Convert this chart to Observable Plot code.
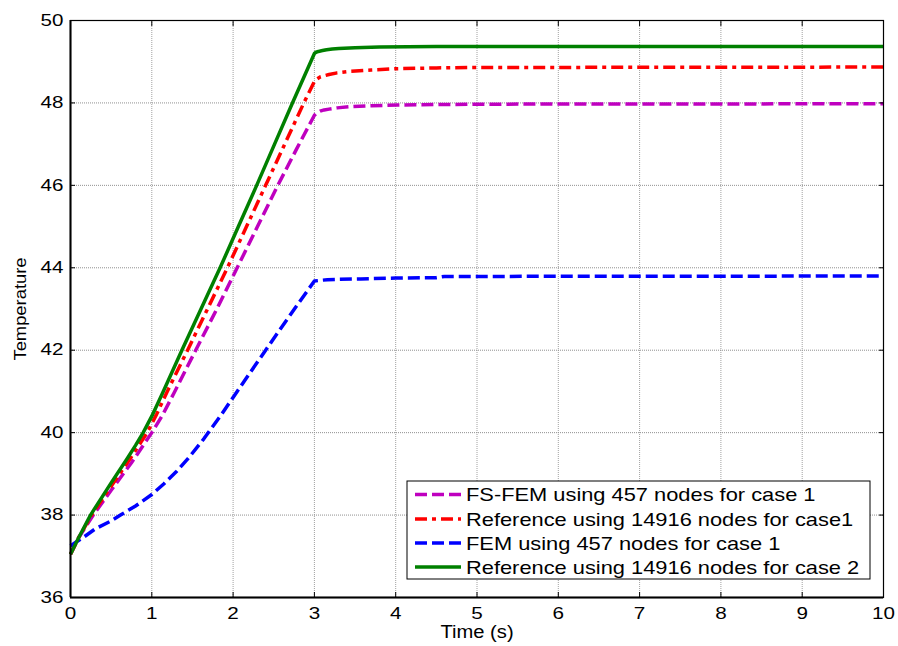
<!DOCTYPE html>
<html><head><meta charset="utf-8">
<script src="https://cdn.jsdelivr.net/npm/d3@7"></script>
<script src="https://cdn.jsdelivr.net/npm/@observablehq/plot@0.6"></script>
<style>
body{margin:0;background:#fff}
#chart{position:relative;width:898px;height:646px}
svg text{font-family:"Liberation Sans",Arial,sans-serif}
</style>
</head><body><div id="chart"></div>
<script>
// ---- data ----
const xDomain = [0, 10];
const yDomain = [36, 50];
const xTicks = [0, 1, 2, 3, 4, 5, 6, 7, 8, 9, 10];
const yTicks = [36, 38, 40, 42, 44, 46, 48, 50];
const xLabel = "Time (s)";
const yLabel = "Temperature";

const seriesNames = [
  "FS-FEM using 457 nodes for case 1",
  "Reference using 14916 nodes for case1",
  "FEM using 457 nodes for case 1",
  "Reference using 14916 nodes for case 2"
];
const seriesColors = ["#bf00bf", "#ff0000", "#0000ff", "#008000"];
const seriesDash = ["12,5", "12,5,4,5", "12,5", null];

// FS-FEM 457 nodes case 1 (magenta)
const tMag = [0, 0.1, 0.28, 0.5, 0.75, 1.0, 1.13, 1.27, 1.54, 1.8, 2.05, 2.3, 2.55, 2.78, 3.0, 3.03, 3.07, 3.12, 3.18, 3.28, 3.45, 3.7, 4.02, 4.5, 5.0, 10];
const vMag = [37.05, 37.45, 38.0, 38.6, 39.27, 40.0, 40.42, 40.95, 42.0, 43.0, 44.0, 45.0, 46.0, 46.88, 47.7, 47.76, 47.8, 47.83, 47.85, 47.88, 47.91, 47.93, 47.95, 47.96, 47.97, 47.98];
// Reference 14916 nodes case 1 (red)
const tRed = [0, 0.1, 0.26, 0.5, 0.72, 0.943, 1.06, 1.19, 1.44, 1.685, 1.93, 2.165, 2.40, 2.635, 2.87, 3.0, 3.03, 3.07, 3.12, 3.18, 3.28, 3.45, 3.7, 4.02, 4.5, 5.0, 10];
const vRed = [37.05, 37.45, 38.0, 38.7, 39.33, 40.0, 40.45, 41.0, 42.0, 43.0, 44.0, 45.0, 46.0, 47.0, 48.0, 48.52, 48.58, 48.63, 48.66, 48.69, 48.73, 48.77, 48.8, 48.83, 48.85, 48.86, 48.87];
// FEM 457 nodes case 1 (blue)
const tBlue = [0, 0.08, 0.16, 0.3, 0.5, 0.615, 0.8, 1.0, 1.15, 1.3, 1.45, 1.64, 1.85, 2.05, 2.4, 2.7, 3.0, 3.05, 3.1, 3.16, 3.3, 3.57, 4.0, 4.5, 4.6, 10];
const vBlue = [37.25, 37.36, 37.46, 37.66, 37.86, 38.0, 38.22, 38.5, 38.76, 39.05, 39.38, 39.85, 40.42, 41.0, 42.0, 42.85, 43.68, 43.69, 43.7, 43.71, 43.72, 43.73, 43.75, 43.76, 43.79, 43.8];
// Reference 14916 nodes case 2 (green)
const tGreen = [0, 0.1, 0.246, 0.5, 0.7, 0.8, 0.894, 1.0, 1.13, 1.37, 1.605, 1.84, 2.065, 2.29, 2.51, 2.73, 3.0, 3.02, 3.05, 3.1, 3.15, 3.22, 3.3, 3.5, 3.8, 4.5, 10];
const vGreen = [37.05, 37.45, 38.0, 38.78, 39.38, 39.69, 40.0, 40.4, 40.95, 42.0, 43.0, 44.0, 45.0, 46.0, 47.0, 48.0, 49.2, 49.23, 49.25, 49.27, 49.29, 49.31, 49.32, 49.34, 49.36, 49.37, 49.37];

const seriesT = [tMag, tRed, tBlue, tGreen];
const seriesV = [vMag, vRed, vBlue, vGreen];

const rows = seriesT.map((ts, k) => ts.map((t, i) => ({t, v: seriesV[k][i], k})));

const lineMarks = rows.map((r, k) => Plot.line(r, {
  x: "t", y: "v", stroke: seriesColors[k], strokeWidth: 3.5,
  strokeDasharray: seriesDash[k] || undefined, curve: "linear",
  strokeLinecap: "butt", strokeLinejoin: "round"
}));

const empty = () => "";
const plot = Plot.plot({
  width: 898, height: 646,
  marginLeft: 70, marginRight: 15, marginTop: 20, marginBottom: 49,
  x: {domain: xDomain},
  y: {domain: yDomain},
  style: {fontSize: "16px", fontFamily: "'Liberation Sans', Arial, sans-serif", background: "#fff", color: "#000"},
  marks: [
    Plot.gridX(xTicks, {stroke: "#a0a0a0", strokeOpacity: 1, strokeWidth: 1, strokeDasharray: "1,1"}),
    Plot.gridY(yTicks, {stroke: "#909090", strokeOpacity: 1, strokeWidth: 1, strokeDasharray: "1,1"}),
    ...lineMarks,
    Plot.frame({stroke: "#000", strokeWidth: 1.2}),
    Plot.ruleX([xDomain[0]], {stroke: "#000", strokeWidth: 2}),
    Plot.ruleY([yDomain[0]], {stroke: "#000", strokeWidth: 2}),
    Plot.axisX(xTicks, {anchor: "bottom", tickSize: -5, tickFormat: empty, label: null}),
    Plot.axisX(xTicks, {anchor: "top", tickSize: -5, tickFormat: empty, label: null}),
    Plot.axisY(yTicks, {anchor: "left", tickSize: -5, tickFormat: empty, label: null}),
    Plot.axisY(yTicks, {anchor: "right", tickSize: -5, tickFormat: empty, label: null}),
    Plot.axisX(xTicks, {anchor: "bottom", tickSize: 0, tickPadding: 10, fontSize: 16.5, label: null}),
    Plot.axisY(yTicks, {anchor: "left", tickSize: 0, tickPadding: 7, fontSize: 16.5, label: null}),
    Plot.text([xLabel], {frameAnchor: "bottom", dy: 40, lineAnchor: "bottom", textAnchor: "middle", fontSize: 18, fill: "#000"}),
    Plot.text([yLabel], {frameAnchor: "left", dx: -45, rotate: -90, lineAnchor: "bottom", textAnchor: "middle", fontSize: 17, fill: "#000"})
  ]
});
document.getElementById("chart").appendChild(plot);

// horizontal stretch of texts to match reference glyph widths
function stretch(el, f) {
  const len = el.getComputedTextLength();
  if (len > 0) {
    el.setAttribute("textLength", (len * f).toFixed(1));
    el.setAttribute("lengthAdjust", "spacingAndGlyphs");
  }
}
plot.querySelectorAll("text").forEach(el => {
  const s = el.textContent;
  if (!s) return;
  if (s === xLabel) stretch(el, 1.12);
  else if (s === yLabel) stretch(el, 1.08);
  else stretch(el, 1.25);
});

// legend (inside plot area, bottom right)
const svg = d3.select(plot);
const lg = svg.append("g").attr("transform", "translate(407,481)");
lg.append("rect").attr("width", 463).attr("height", 98).attr("fill", "#fff").attr("stroke", "#000").attr("stroke-width", 1);
const rowY = [13.5, 38, 62, 86];
seriesNames.forEach((name, k) => {
  lg.append("line").attr("x1", 8).attr("x2", 54).attr("y1", rowY[k]).attr("y2", rowY[k])
    .attr("stroke", seriesColors[k]).attr("stroke-width", 3.5)
    .attr("stroke-dasharray", seriesDash[k] || null);
  const t = lg.append("text").attr("x", 59).attr("y", rowY[k]).attr("dy", "0.36em")
    .attr("text-anchor", "start")
    .attr("font-size", 18.5).attr("fill", "#000").text(name);
  stretch(t.node(), 1.18);
});
</script>
</body></html>
